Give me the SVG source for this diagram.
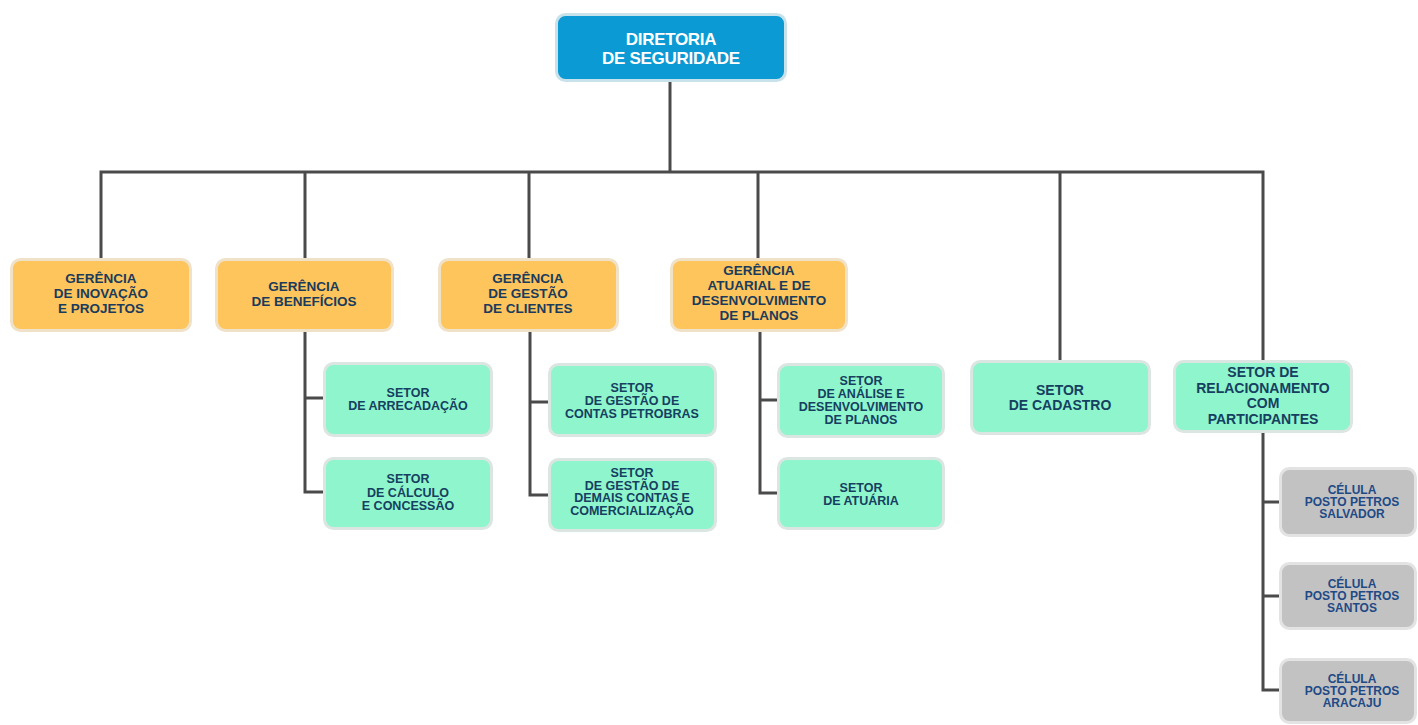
<svg xmlns="http://www.w3.org/2000/svg" width="1418" height="725" viewBox="0 0 1418 725">
<style>
text{font-family:"Liberation Sans",Arial,sans-serif;font-weight:bold;text-anchor:middle}
.conn{fill:none;stroke:#4a4a4a;stroke-width:3}
.top rect{fill:#0b9ad3;stroke:#c8e2ec;stroke-width:3}
.top text{fill:#ffffff;font-size:17px;letter-spacing:-0.3px}
.ger rect{fill:#fdc55c;stroke:#efe2c8;stroke-width:3}
.ger text{fill:#1a3b5c;font-size:13.5px}
.set rect{fill:#8ff5cd;stroke:#dbe5e1;stroke-width:3}
.set text{fill:#15405f;font-size:12.5px}
.big text{font-size:14px}
.cel rect{fill:#c2c2c2;stroke:#e3e3e3;stroke-width:3}
.cel text{fill:#1f4a86;font-size:12px}
</style>
<rect width="1418" height="725" fill="#ffffff"/>
<g id="connectors">
<path class="conn" d="M670 82V172"/>
<path class="conn" d="M101 258V172H1263V360"/>
<path class="conn" d="M305 172V258M529 172V258M758 172V258M1060 172V360"/>
<path class="conn" d="M305 332V492H323M305 398H323"/>
<path class="conn" d="M530 332V495H548M530 402H548"/>
<path class="conn" d="M760 332V493H777M760 400H777"/>
<path class="conn" d="M1263 433V690H1279M1263 502H1279M1263 596H1279"/>
</g>
<g id="diretoria" class="top">
<rect x="556.5" y="14.5" width="229" height="66" rx="9"/>
<text x="671" y="45">DIRETORIA</text>
<text x="671" y="64">DE SEGURIDADE</text>
</g>
<g id="ger-inovacao" class="ger">
<rect x="11.5" y="259.5" width="179" height="71" rx="9"/>
<text x="101" y="283">GERÊNCIA</text>
<text x="101" y="298">DE INOVAÇÃO</text>
<text x="101" y="313">E PROJETOS</text>
</g>
<g id="ger-beneficios" class="ger">
<rect x="216.5" y="259.5" width="176" height="71" rx="9"/>
<text x="304" y="291">GERÊNCIA</text>
<text x="304" y="306">DE BENEFÍCIOS</text>
</g>
<g id="ger-clientes" class="ger">
<rect x="439.5" y="259.5" width="178" height="71" rx="9"/>
<text x="528" y="283">GERÊNCIA</text>
<text x="528" y="298">DE GESTÃO</text>
<text x="528" y="313">DE CLIENTES</text>
</g>
<g id="ger-atuarial" class="ger">
<rect x="671.5" y="259.5" width="175" height="71" rx="9"/>
<text x="759" y="275">GERÊNCIA</text>
<text x="759" y="290">ATUARIAL E DE</text>
<text x="759" y="305">DESENVOLVIMENTO</text>
<text x="759" y="320">DE PLANOS</text>
</g>
<g id="set-arrecadacao" class="set">
<rect x="324.5" y="363.5" width="167" height="72" rx="9"/>
<text x="408" y="397">SETOR</text>
<text x="408" y="410">DE ARRECADAÇÃO</text>
</g>
<g id="set-calculo" class="set">
<rect x="324.5" y="458.5" width="167" height="70" rx="9"/>
<text x="408" y="483">SETOR</text>
<text x="408" y="497">DE CÁLCULO</text>
<text x="408" y="510">E CONCESSÃO</text>
</g>
<g id="set-petrobras" class="set">
<rect x="549.5" y="364.5" width="166" height="71" rx="9"/>
<text x="632" y="392">SETOR</text>
<text x="632" y="405">DE GESTÃO DE</text>
<text x="632" y="418">CONTAS PETROBRAS</text>
</g>
<g id="set-demais" class="set">
<rect x="549.5" y="459.5" width="166" height="71" rx="9"/>
<text x="632" y="477">SETOR</text>
<text x="632" y="489.5">DE GESTÃO DE</text>
<text x="632" y="502">DEMAIS CONTAS E</text>
<text x="632" y="514.5">COMERCIALIZAÇÃO</text>
</g>
<g id="set-analise" class="set">
<rect x="778.5" y="364.5" width="165" height="72" rx="9"/>
<text x="861" y="385">SETOR</text>
<text x="861" y="398">DE ANÁLISE E</text>
<text x="861" y="411">DESENVOLVIMENTO</text>
<text x="861" y="424">DE PLANOS</text>
</g>
<g id="set-atuaria" class="set">
<rect x="778.5" y="458.5" width="165" height="70" rx="9"/>
<text x="861" y="492">SETOR</text>
<text x="861" y="505">DE ATUÁRIA</text>
</g>
<g id="set-cadastro" class="set big">
<rect x="971.5" y="361.5" width="178" height="72" rx="9"/>
<text x="1060" y="395">SETOR</text>
<text x="1060" y="410">DE CADASTRO</text>
</g>
<g id="set-relacionamento" class="set big">
<rect x="1174.5" y="361.5" width="177" height="70" rx="9"/>
<text x="1263" y="377">SETOR DE</text>
<text x="1263" y="392.5">RELACIONAMENTO</text>
<text x="1263" y="408">COM</text>
<text x="1263" y="423.5">PARTICIPANTES</text>
</g>
<g id="cel-salvador" class="cel">
<rect x="1280.5" y="468.5" width="135" height="67" rx="9"/>
<text x="1352" y="494">CÉLULA</text>
<text x="1352" y="506">POSTO PETROS</text>
<text x="1352" y="518">SALVADOR</text>
</g>
<g id="cel-santos" class="cel">
<rect x="1280.5" y="563.5" width="135" height="65" rx="9"/>
<text x="1352" y="588">CÉLULA</text>
<text x="1352" y="600">POSTO PETROS</text>
<text x="1352" y="612">SANTOS</text>
</g>
<g id="cel-aracaju" class="cel">
<rect x="1280.5" y="659.5" width="135" height="63" rx="9"/>
<text x="1352" y="683">CÉLULA</text>
<text x="1352" y="695">POSTO PETROS</text>
<text x="1352" y="707">ARACAJU</text>
</g>
</svg>
